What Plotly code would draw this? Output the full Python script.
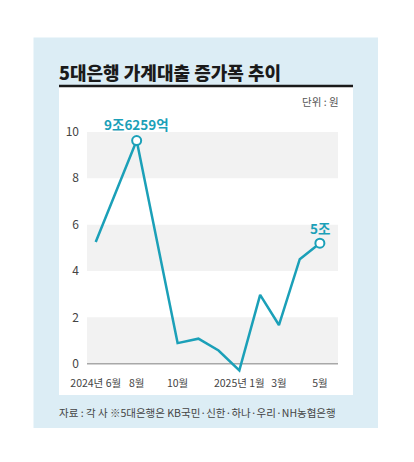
import plotly.graph_objects as go

# Data (values in 조원)
months = ["2024-06-01", "2024-08-01", "2024-10-01", "2024-11-01", "2024-12-01",
          "2025-01-01", "2025-02-01", "2025-03-01", "2025-04-01", "2025-05-01"]
increase = [5.25, 9.6259, 0.89, 1.08, 0.57, -0.29, 2.97, 1.67, 4.51, 5.2]
tick_dates = ["2024-06-01", "2024-08-01", "2024-10-01", "2025-01-01", "2025-03-01", "2025-05-01"]
tick_text = ["2024년 6월", "8월", "10월", "2025년 1월", "3월", "5월"]
y_ticks = [0, 2, 4, 6, 8, 10]

TEAL = "#1ba0b8"
FONT = "Noto Sans CJK KR"
W, H = 414, 462
ML, MR, MT, MB = 87, 76, 118, 89
PW, PH = W - ML - MR, H - MT - MB


def px(x):
    return (x - ML) / PW


def py(y):
    return (H - MB - y) / PH


fig = go.Figure()

fig.add_trace(go.Scatter(
    x=months, y=increase, mode="lines",
    line=dict(color=TEAL, width=2.5), hoverinfo="skip", showlegend=False
))

# highlighted points: peak and latest
hi = [1, len(months) - 1]
fig.add_trace(go.Scatter(
    x=[months[i] for i in hi], y=[increase[i] for i in hi], mode="markers",
    marker=dict(size=9, color="white", line=dict(color=TEAL, width=2)),
    cliponaxis=False, hoverinfo="skip", showlegend=False
))

shapes = [
    # outer light blue box
    dict(type="rect", xref="paper", yref="paper", x0=px(33.5), x1=px(378), y0=py(428), y1=py(37.5),
         fillcolor="#dcedf5", line=dict(width=0), layer="below"),
    # white panel
    dict(type="rect", xref="paper", yref="paper", x0=px(59), x1=px(353), y0=py(395), y1=py(87),
         fillcolor="white", line=dict(width=0), layer="below"),
    # title rule
    dict(type="line", xref="paper", yref="paper", x0=px(59), x1=px(353), y0=py(86), y1=py(86),
         line=dict(color="#1a1a1a", width=2.5), layer="below"),
]
# gray bands
for lo, hi_ in [(0, 2), (4, 6), (8, 10)]:
    shapes.append(dict(type="rect", xref="paper", yref="y", x0=0, x1=1, y0=lo, y1=hi_,
                       fillcolor="#f2f2f2", line=dict(width=0), layer="below"))
# zero line
shapes.append(dict(type="line", xref="paper", yref="y", x0=0, x1=1, y0=0, y1=0,
                   line=dict(color="#a8a8a8", width=1.5), layer="below"))

annotations = [
    dict(text="5대은행 가계대출 증가폭 추이", xref="paper", yref="paper",
         x=px(57), y=py(72), xanchor="left", yanchor="middle", showarrow=False,
         font=dict(family=FONT, size=18, color="#1a1a1a", weight=900)),
    dict(text="단위 : 원", xref="paper", yref="paper", x=px(341), y=py(101),
         xanchor="right", yanchor="middle", showarrow=False,
         font=dict(family=FONT, size=10.5, color="#555555")),
    dict(text="<b>9조6259억</b>", x=months[1], y=increase[1], yshift=17,
         xanchor="center", yanchor="middle", showarrow=False,
         font=dict(family=FONT, size=13.5, color=TEAL)),
    dict(text="<b>5조</b>", x=months[-1], y=increase[-1], yshift=15,
         xanchor="center", yanchor="middle", showarrow=False,
         font=dict(family=FONT, size=13.5, color=TEAL)),
    dict(text="자료 : 각 사 ※5대은행은 KB국민·신한·하나·우리·NH농협은행", xref="paper", yref="paper",
         x=px(57), y=py(413), xanchor="left", yanchor="middle", showarrow=False,
         font=dict(family=FONT, size=10.5, color="#444444")),
]

fig.update_layout(
    width=W, height=H,
    margin=dict(l=ML, r=MR, t=MT, b=MB),
    paper_bgcolor="white", plot_bgcolor="rgba(0,0,0,0)",
    shapes=shapes, annotations=annotations,
    xaxis=dict(type="date", range=["2024-05-19", "2025-05-28"],
               tickvals=tick_dates, ticktext=tick_text, showgrid=False, zeroline=False,
               showline=False, ticks="", ticklabelstandoff=2,
               tickfont=dict(family=FONT, size=10.5, color="#444444")),
    yaxis=dict(range=[-0.4, 10.6], tickvals=y_ticks, showgrid=False, zeroline=False,
               showline=False, ticks="", ticklabelstandoff=7,
               tickfont=dict(family=FONT, size=12, color="#444444")),
    showlegend=False,
)

# drop the page's default body margin so the chart sits at the window origin
fig.write_html("out.html", config={"displayModeBar": False},
               post_script="document.body.style.margin='0';")
